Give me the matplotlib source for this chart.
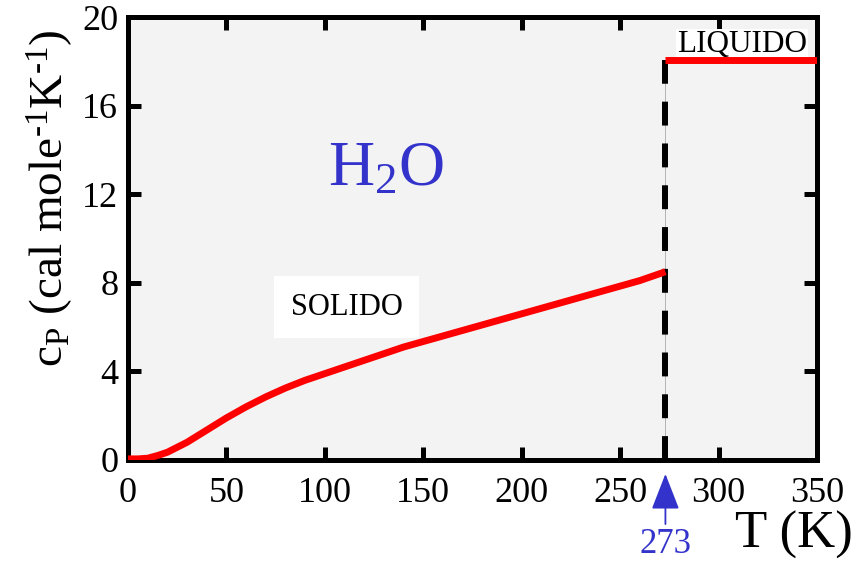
import numpy as np
import matplotlib.pyplot as plt

plt.rcParams['font.family'] = ['Liberation Serif', 'DejaVu Serif']
plt.rcParams['mathtext.fontset'] = 'custom'
plt.rcParams['mathtext.rm'] = 'Liberation Serif'
plt.rcParams['mathtext.it'] = 'Liberation Serif:italic'

# solid ice
T_solid = [0, 5, 10, 15, 20, 30, 40, 50, 60, 70, 80, 90, 100, 120, 140, 160, 180, 200, 220, 240, 260, 273]
cp_solid = [0.05, 0.05, 0.08, 0.2, 0.35, 0.8, 1.35, 1.9, 2.4, 2.85, 3.25, 3.6, 3.9, 4.5, 5.1, 5.6, 6.1, 6.6, 7.1, 7.6, 8.1, 8.5]
# liquid water
T_liquid = [273, 350]
cp_liquid = [18.05, 18.05]
T_melt = 273

fig = plt.figure(figsize=(8.62, 5.63), dpi=100)
ax = fig.add_axes([128 / 862, 1 - 460 / 563, (817 - 128) / 862, (460 - 17) / 563])
ax.set_facecolor('#f3f3f3')

# thin grey line under the dashes, then the dashed line
ax.plot([T_melt, T_melt], [0, cp_liquid[0]], color='#aaaaaa', lw=0.6, zorder=2)
ax.plot([T_melt, T_melt], [0, cp_liquid[0]], color='black', lw=4.3,
        dashes=(4.0, 3.0), zorder=3)
ax.plot(T_solid, cp_solid, color='#ff0000', lw=5, solid_capstyle='butt', zorder=6)
ax.plot(T_liquid, cp_liquid, color='#ff0000', lw=5, solid_capstyle='butt', zorder=6)

ax.set_xlim(0, 350)
ax.set_ylim(0, 20)
ax.set_xticks(np.arange(0, 351, 50))
ax.set_yticks(np.arange(0, 21, 4))
for s in ax.spines.values():
    s.set_linewidth(3.6)
ax.tick_params(direction='in', length=9.5, width=3.6, labelsize=26,
               top=True, right=True)
ax.tick_params(axis='x', pad=12)
ax.tick_params(axis='y', pad=7)

ax.text(131, 13.1, 'H$_2$O', color='#3333cc', fontsize=46, ha='center', va='center')
ax.text(111, 6.9, 'SOLIDO', fontsize=22, ha='center', va='center', zorder=5,
        bbox=dict(facecolor='white', edgecolor='none', pad=12))
ax.text(312, 18.75, 'LIQUIDO', fontsize=22.5, ha='center', va='center', zorder=5,
        bbox=dict(facecolor='white', edgecolor='none', pad=1))

ax.annotate('273', xy=(T_melt, 0), xycoords='data',
            xytext=(0, -61), textcoords='offset points',
            ha='center', va='center', color='#3333cc', fontsize=25,
            arrowprops=dict(arrowstyle='-|>,head_length=0.9,head_width=0.35',
                            color='#3333cc', lw=1.3, shrinkA=1, shrinkB=10),
            annotation_clip=False)

fig.text(794 / 862, 1 - 535 / 563, 'T (K)', fontsize=38, ha='center', va='center')
fig.text(50 / 862, 1 - 198 / 563,
         'c$_\\mathrm{P}$ (cal mole$^{\\text{-}1}$K$^{\\text{-}1}$)',
         fontsize=34, rotation=90, ha='center', va='center')

fig.savefig('out.png', dpi=100)
